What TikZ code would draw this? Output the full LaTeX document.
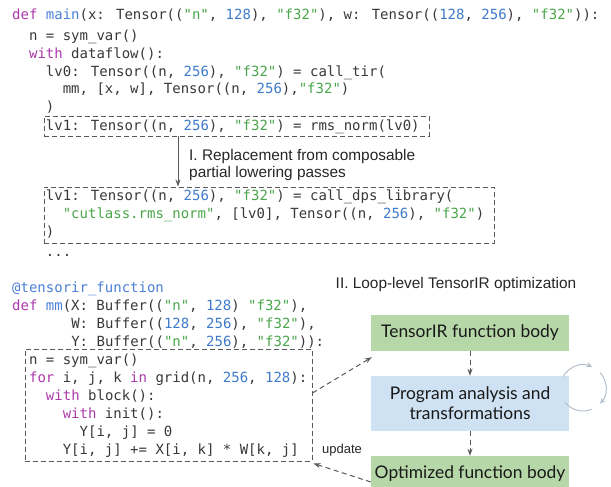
\documentclass[tikz,border=0pt]{standalone}
\usepackage{fontspec}
\setmainfont{Liberation Sans}
\newfontfamily\codefont{DejaVu Sans Mono}
\newfontfamily\boxfont{Lato}
\usetikzlibrary{arrows.meta,calc}
\definecolor{codetxt}{HTML}{383838}
\definecolor{kwc}{HTML}{AA3AAA}
\definecolor{fnc}{HTML}{4B7FD8}
\definecolor{numc}{HTML}{3D7ACB}
\definecolor{strc}{HTML}{4AA64A}
\definecolor{lnc}{HTML}{5A5A5A}
\definecolor{greenbox}{HTML}{B6D7A8}
\definecolor{bluebox}{HTML}{CFE2F3}
\definecolor{cycc}{HTML}{B4BFCC}
\newcommand{\ckw}[1]{\textcolor{kwc}{#1}}
\newcommand{\cfn}[1]{\textcolor{fnc}{#1}}
\newcommand{\cnum}[1]{\textcolor{numc}{#1}}
\newcommand{\cstr}[1]{\textcolor{strc}{#1}}
\begin{document}
\begin{tikzpicture}[x=1bp,y=-1bp,
  code/.style={anchor=west,inner sep=0pt,text height=11bp,text depth=3bp,
    font=\codefont\fontsize{14bp}{16bp}\selectfont,text=codetxt},
  dbox/.style={draw=lnc,line width=0.9bp,dash pattern=on 5bp off 3bp,inner sep=0pt},
  arr/.style={draw=lnc,line width=1bp,-{Stealth[length=7bp,width=5bp]}},
  darr/.style={draw=lnc,line width=1bp,dash pattern=on 5bp off 3.5bp,-{Stealth[length=7bp,width=5bp]}},
  lab/.style={inner sep=0pt,font=\fontsize{15.4bp}{17bp}\selectfont,text=black!85},
  gbox/.style={fill=greenbox,inner sep=0pt,minimum width=198bp,font=\boxfont\fontsize{17.4bp}{20bp}\selectfont,text=black!90},
  bbox/.style={fill=bluebox,inner sep=0pt,minimum width=198bp,align=center,font=\boxfont\fontsize{17.4bp}{20bp}\selectfont,text=black!90},
  cyc/.style={draw=cycc,line width=1bp}]
\useasboundingbox (0,0) rectangle (611,487);

% ---- block 1 ----
\node[code] (l1) at (12,16) {\ckw{def} \cfn{main}(x: Tensor((\cstr{"n"}, \cnum{128}), \cstr{"f32"}), w: Tensor((\cnum{128}, \cnum{256}), \cstr{"f32"})):};
\node[code] (l2) at (28.9,37) {n = sym\_var()};
\node[code] (l3) at (28.9,55) {\ckw{with} dataflow():};
\node[code] (l4) at (45.8,73) {lv0: Tensor((n, \cnum{256}), \cstr{"f32"}) = call\_tir(};
\node[code] (l5) at (62.6,90) {mm, [x, w], Tensor((n, \cnum{256}),\cstr{"f32"})};
\node[code] (l6) at (45.8,108) {)};
\node[dbox,minimum width=385bp,minimum height=20bp] (b1) at (236.5,126) {};
\node[code] (l7) at (45.8,127) {lv1: Tensor((n, \cnum{256}), \cstr{"f32"}) = rms\_norm(lv0)};

\coordinate (ax) at (178,0);
\node[dbox,minimum width=450bp,minimum height=56bp] (b2) at (269,215) {};
\draw[arr] (b1.south -| ax) -- (b2.north -| ax);
\node[lab,anchor=west,align=left] (lab1) at (189,165.5) {I. Replacement from composable\\partial lowering passes};

\node[code] (k1) at (45.8,197) {lv1: Tensor((n, \cnum{256}), \cstr{"f32"}) = call\_dps\_library(};
\node[code] (k2) at (62.6,215) {\cstr{"cutlass.rms\_norm"}, [lv0], Tensor((n, \cnum{256}), \cstr{"f32"})};
\node[code] (k3) at (45.8,233) {)};
\node[code] (k4) at (45.8,252) {...};

% ---- block 2 ----
\node[code] (m1) at (12,288) {\cfn{@tensorir\_function}};
\node[code] (m2) at (12,306) {\ckw{def} \cfn{mm}(X: Buffer((\cstr{"n"}, \cnum{128}) \cstr{"f32"}),};
\node[code] (m3) at (71.1,324) {W: Buffer((\cnum{128}, \cnum{256}), \cstr{"f32"}),};
\node[code] (m4) at (71.1,342) {Y: Buffer((\cstr{"n"}, \cnum{256}), \cstr{"f32"})):};

\node[dbox,minimum width=287bp,minimum height=112bp] (cb) at (168.5,405) {};
\node[code] (c1) at (28.9,360) {n = sym\_var()};
\node[code] (c2) at (28.9,378) {\ckw{for} i, j, k \ckw{in} grid(n, \cnum{256}, \cnum{128}):};
\node[code] (c3) at (45.8,396) {\ckw{with} block():};
\node[code] (c4) at (62.6,414) {\ckw{with} init():};
\node[code] (c5) at (79.5,432) {Y[i, j] = 0};
\node[code] (c6) at (62.6,450) {Y[i, j] += X[i, k] * W[k, j]};

% ---- right side ----
\node[lab] (lab2) at (456,285) {II. Loop-level TensorIR optimization};
\node[gbox,minimum height=36bp] (g1) at (470,333) {TensorIR function body};
\node[bbox,minimum height=55bp] (g2) at (470,403.5) {Program analysis and\\transformations};
\node[gbox,minimum height=36bp] (g3) at (470,474) {Optimized function body};

\draw[darr] (g1.south) -- (g2.north);
\draw[darr] (g2.south) -- (g3.north);
\draw[darr] ($(cb.east)+(0,-12)$) -- ($(g1.south west)+(1,6)$);
\draw[darr] ($(g3.west)+(0,8)$) -- ($(cb.south east)+(1,2)$);
\node[lab,font=\fontsize{13bp}{15bp}\selectfont] (upd) at (342,450) {update};

\coordinate (cy) at (583,388);
\draw[cyc,-{Stealth[length=6bp,width=5bp]}] ([shift={(150:23bp)}]cy) arc[start angle=150,end angle=66,radius=23bp];
\draw[cyc,-{Stealth[length=6bp,width=5bp]}] ([shift={(42:23bp)}]cy) arc[start angle=42,end angle=-43,radius=23bp];
\draw[cyc] ([shift={(-68:23bp)}]cy) arc[start angle=-68,end angle=-141,radius=23bp];
\end{tikzpicture}
\end{document}
